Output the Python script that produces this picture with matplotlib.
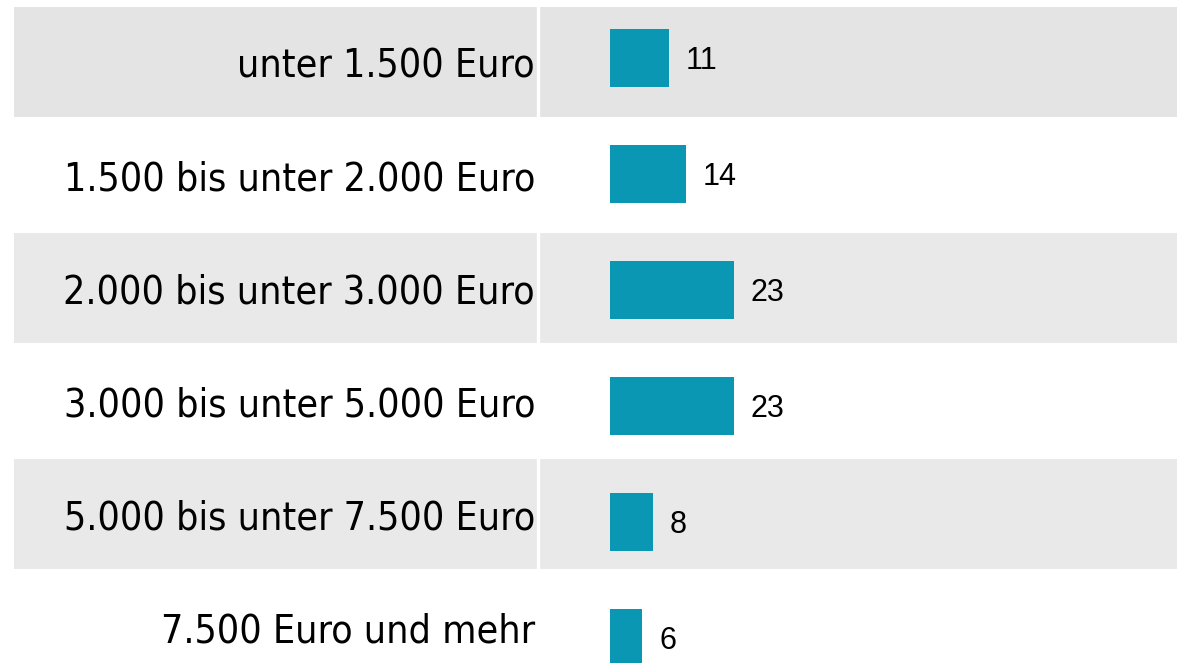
import matplotlib as mpl
import matplotlib.pyplot as plt

mpl.use('Agg')

categories = [
    'unter 1.500 Euro',
    '1.500 bis unter 2.000 Euro',
    '2.000 bis unter 3.000 Euro',
    '3.000 bis unter 5.000 Euro',
    '5.000 bis unter 7.500 Euro',
    '7.500 Euro und mehr',
]
values = [11, 14, 23, 23, 8, 6]

bar_color = '#0a97b4'
band_colors = ['#e4e4e4', '#e9e9e9', '#e9e9e9']

# pixel layout of the original (1177x663)
W, H = 1177, 663
px_per_unit = 5.4       # bar length per value unit
x0_px = 610             # where bars start
row_px = 116            # bar pitch
first_px = 58           # centre of first bar
band_pitch_px = 113     # bands / labels drift a little from the bars
band_first_px = 62
band_half_px = 55

fig = plt.figure(figsize=(W / 100, H / 100), dpi=100)
ax = fig.add_axes([0, 0, 1, 1])
ax.set_xlim(-x0_px / px_per_unit, (W - x0_px) / px_per_unit)
ax.set_ylim((H - first_px) / row_px, -first_px / row_px)
ax.axis('off')


def band_center(i):
    return (band_first_px + band_pitch_px * i - first_px) / row_px


# grey bands on every other row
for k, i in enumerate(range(0, len(categories), 2)):
    c = band_center(i)
    h = band_half_px / row_px
    ax.axhspan(c - h, c + h, xmin=14 / W, xmax=1, color=band_colors[k], lw=0, zorder=0)

# white separator between label column and bar column
ax.axvline((538 - x0_px) / px_per_unit, color='white', lw=2.4, zorder=1)

ypos = range(len(categories))
ax.barh(ypos, values, height=58 / row_px, color=bar_color, zorder=2)

for i, (cat, v) in enumerate(zip(categories, values)):
    ax.annotate(cat, ((535 - x0_px) / px_per_unit, band_center(i)), xytext=(0, -3),
                textcoords='offset points', ha='right', va='center',
                fontsize=28.2, family='DejaVu Sans', fontstretch='condensed', color='black')
    ax.annotate(str(v), (v, i), xytext=(12, -2), textcoords='offset points',
                ha='left', va='center', fontsize=22, family='Liberation Sans',
                color='black')

fig.savefig('out.png', dpi=100)
